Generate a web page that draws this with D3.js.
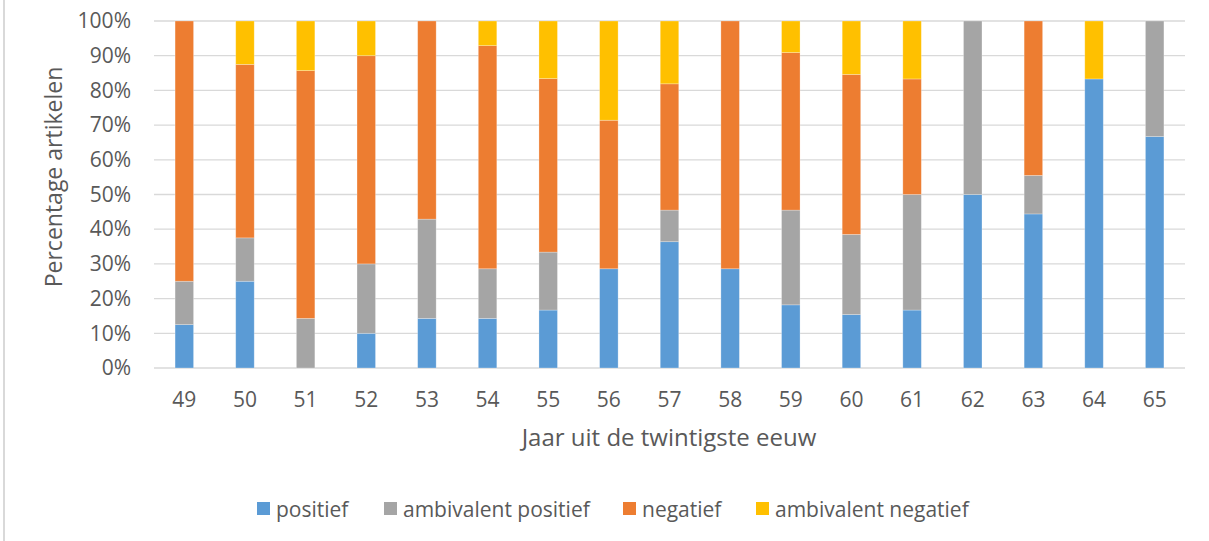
<!DOCTYPE html>
<html>
<head>
<meta charset="utf-8">
<script src="https://cdn.jsdelivr.net/npm/d3@7"></script>
<style>
  html, body { margin: 0; padding: 0; background: #fff; }
  svg { display: block; }
  text { font-family: "Open Sans", "Liberation Sans", sans-serif; fill: #595959; }
</style>
</head>
<body>
<svg id="chart" width="1209" height="541"></svg>
<script>
const categories = ["49","50","51","52","53","54","55","56","57","58","59","60","61","62","63","64","65"];
const seriesNames = ["positief", "ambivalent positief", "negatief", "ambivalent negatief"];
const positief            = [12.5, 25.0,  0.0, 10.0, 14.3, 14.3, 16.7, 28.6, 36.4, 28.6, 18.2, 15.4, 16.7, 50.0, 44.4, 83.3, 66.7];
const ambivalentPositief  = [12.5, 12.5, 14.3, 20.0, 28.6, 14.3, 16.7,  0.0,  9.1,  0.0, 27.3, 23.1, 33.3, 50.0, 11.1,  0.0, 33.3];
const negatief            = [75.0, 50.0, 71.4, 60.0, 57.1, 64.3, 50.0, 42.8, 36.4, 71.4, 45.4, 46.1, 33.3,  0.0, 44.5,  0.0,  0.0];
const ambivalentNegatief  = [ 0.0, 12.5, 14.3, 10.0,  0.0,  7.1, 16.6, 28.6, 18.1,  0.0,  9.1, 15.4, 16.7,  0.0,  0.0, 16.7,  0.0];
const yTicks = [0, 10, 20, 30, 40, 50, 60, 70, 80, 90, 100];
const colors = ["#5B9BD5", "#A5A5A5", "#ED7D31", "#FFC000"];
const yTitle = "Percentage artikelen";
const xTitle = "Jaar uit de twintigste eeuw";

(function () {
const seriesValues = [positief, ambivalentPositief, negatief, ambivalentNegatief];
const rows = categories.map((c, i) => {
  const r = { cat: c };
  seriesNames.forEach((s, k) => r[s] = seriesValues[k][i]);
  return r;
});

const svg = d3.select("#chart");
const mLeft = 154, mRight = 1185, mTop = 21, mBottom = 368;

svg.append("line").attr("x1", 4).attr("x2", 4).attr("y1", 0).attr("y2", 541)
  .attr("stroke", "#D9D9D9").attr("stroke-width", 2);

const x = d3.scaleBand().domain(categories).range([mLeft, mRight])
  .paddingInner(0.695).paddingOuter(0.3475);
const y = d3.scaleLinear().domain([0, 100]).range([mBottom, mTop]);

svg.append("g").selectAll("line").data(yTicks).join("line")
  .attr("x1", mLeft).attr("x2", mRight)
  .attr("y1", d => y(d)).attr("y2", d => y(d))
  .attr("stroke", "#D9D9D9").attr("stroke-width", 1.3);

const stacked = d3.stack().keys(seriesNames)(rows);
svg.append("g").selectAll("g").data(stacked).join("g")
  .attr("fill", (d, i) => colors[i])
  .selectAll("rect").data(d => d.filter(p => p[1] - p[0] > 0)).join("rect")
  .attr("x", d => x(d.data.cat))
  .attr("width", x.bandwidth())
  .attr("y", d => y(d[1]))
  .attr("height", d => y(d[0]) - y(d[1]))
  .attr("stroke", "#ffffff").attr("stroke-opacity", 0.35).attr("stroke-width", 0.75);

const yAxis = d3.axisLeft(y).tickValues(yTicks).tickFormat(d => d + "%").tickSize(0).tickPadding(23);
const yg = svg.append("g").attr("transform", `translate(${mLeft},0)`).call(yAxis);
yg.select(".domain").remove();
yg.selectAll("text").attr("font-size", 21).style("font-family", "'Open Sans', sans-serif").attr("fill", "#595959");

const xAxis = d3.axisBottom(x).tickSize(0).tickPadding(24);
const xg = svg.append("g").attr("transform", `translate(0,${mBottom})`).call(xAxis);
xg.select(".domain").remove();
xg.selectAll("text").attr("font-size", 21).style("font-family", "'Open Sans', sans-serif").attr("fill", "#595959");

svg.append("text").attr("transform", "translate(62,177) rotate(-90)")
  .attr("text-anchor", "middle").attr("font-size", 23).text(yTitle);
svg.append("text").attr("x", 669).attr("y", 446)
  .attr("text-anchor", "middle").attr("font-size", 24).text(xTitle);

const legendX = [257, 384, 623, 756];
const lg = svg.append("g").selectAll("g").data(seriesNames).join("g")
  .attr("transform", (d, i) => `translate(${legendX[i]},502)`);
lg.append("rect").attr("width", 13).attr("height", 13).attr("fill", (d, i) => colors[i]);
lg.append("text").attr("x", 19).attr("y", 15).attr("font-size", 21).text(d => d);
})();
</script>
</body>
</html>
